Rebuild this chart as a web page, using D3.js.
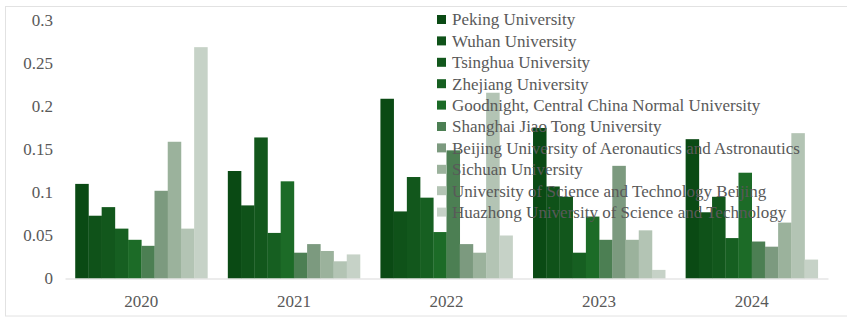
<!DOCTYPE html>
<html>
<head>
<meta charset="utf-8">
<script src="https://cdn.jsdelivr.net/npm/d3@7"></script>
<style>
  body { margin: 0; background: #fff; }
  svg text { font-family: "Liberation Serif", "Times New Roman", serif; }
</style>
</head>
<body>
<div id="plot"></div>
<script>
// data

const years = ["2020", "2021", "2022", "2023", "2024"];

const universities = [
  "Peking University",
  "Wuhan University",
  "Tsinghua University",
  "Zhejiang University",
  "Goodnight, Central China Normal University",
  "Shanghai Jiao Tong University",
  "Beijing University of Aeronautics and Astronautics",
  "Sichuan University",
  "University of Science and Technology Beijing",
  "Huazhong University of Science and Technology"
];

// one array per year, in the order of the universities above
const v2020 = [0.110, 0.073, 0.083, 0.058, 0.045, 0.038, 0.102, 0.159, 0.058, 0.269];
const v2021 = [0.125, 0.085, 0.164, 0.053, 0.113, 0.030, 0.040, 0.032, 0.020, 0.028];
const v2022 = [0.209, 0.078, 0.118, 0.094, 0.054, 0.149, 0.040, 0.030, 0.216, 0.050];
const v2023 = [0.175, 0.107, 0.095, 0.030, 0.072, 0.045, 0.131, 0.045, 0.056, 0.010];
const v2024 = [0.162, 0.077, 0.095, 0.047, 0.123, 0.043, 0.037, 0.065, 0.169, 0.022];

const yTicks = [0, 0.05, 0.1, 0.15, 0.2, 0.25, 0.3];

const colors = ["#0a4a14", "#0f5219", "#12571c", "#165f21", "#1c6b27",
                "#4c7f53", "#7c9a7f", "#9bb29c", "#b3c4b4", "#c6d2c7"];

const values = [v2020, v2021, v2022, v2023, v2024];
const data = [];
years.forEach((yr, i) => {
  universities.forEach((u, j) => {
    data.push({year: yr, uni: u, value: values[i][j]});
  });
});

const w = 847;
const h = 317;
const margin = {top: 20.5, right: 19, bottom: 38.5, left: 65};
const innerWidth = w - margin.left - margin.right;
const innerHeight = h - margin.top - margin.bottom;

const xScale = d3.scaleBand()
    .domain(years)
    .range([0, innerWidth])
    .paddingInner(0.134)
    .paddingOuter(0.067);

const xInner = d3.scaleBand()
    .domain(universities)
    .range([0, xScale.bandwidth()]);

const yScale = d3.scaleLinear()
    .domain([0, 0.3])
    .range([innerHeight, 0]);

const colorScale = d3.scaleOrdinal()
    .domain(universities)
    .range(colors);

const svg = d3.select("#plot")
  .append("svg")
    .attr("width", w)
    .attr("height", h);

// outer frame
svg.append("rect")
    .attr("x", 5.5)
    .attr("y", 6.5)
    .attr("width", w - 5)
    .attr("height", h - 7.5)
    .attr("fill", "#fff")
    .attr("stroke", "#e2e2e2");

const g = svg.append("g")
    .attr("transform", `translate(${margin.left}, ${margin.top})`);

// bars
g.selectAll("rect.bar")
    .data(data)
  .enter().append("rect")
    .attr("class", "bar")
    .attr("x", d => xScale(d.year) + xInner(d.uni))
    .attr("y", d => yScale(d.value))
    .attr("width", xInner.bandwidth() + 0.3)
    .attr("height", d => innerHeight - yScale(d.value))
    .attr("fill", d => colorScale(d.uni));

// x axis
const xAxis = g.append("g")
    .attr("transform", `translate(0, ${innerHeight})`)
    .call(d3.axisBottom(xScale).tickSize(0).tickPadding(16));
xAxis.select(".domain").attr("stroke", "#d9d9d9").attr("stroke-width", 1.2);
xAxis.selectAll("text")
    .attr("font-size", 17)
    .attr("fill", "#595959")
    .attr("font-family", "Liberation Serif, serif");

// y axis
const yAxis = g.append("g")
    .call(d3.axisLeft(yScale).tickValues(yTicks).tickSize(0).tickPadding(12)
      .tickFormat(d => String(d)));
yAxis.select(".domain").remove();
yAxis.selectAll("text")
    .attr("font-size", 17)
    .attr("fill", "#595959")
    .attr("font-family", "Liberation Serif, serif");

// legend
const legend = svg.append("g")
    .attr("transform", "translate(437, 19.5)");

const items = legend.selectAll("g")
    .data(universities)
  .enter().append("g")
    .attr("transform", (d, i) => `translate(0, ${i * 21.4})`);

items.append("rect")
    .attr("x", 0)
    .attr("y", -4.5)
    .attr("width", 9)
    .attr("height", 9)
    .attr("fill", d => colorScale(d));

items.append("text")
    .attr("x", 15)
    .attr("y", 0)
    .attr("dy", "0.35em")
    .attr("font-size", 17)
    .attr("fill", "#595959")
    .text(d => d);
</script>
</body>
</html>
